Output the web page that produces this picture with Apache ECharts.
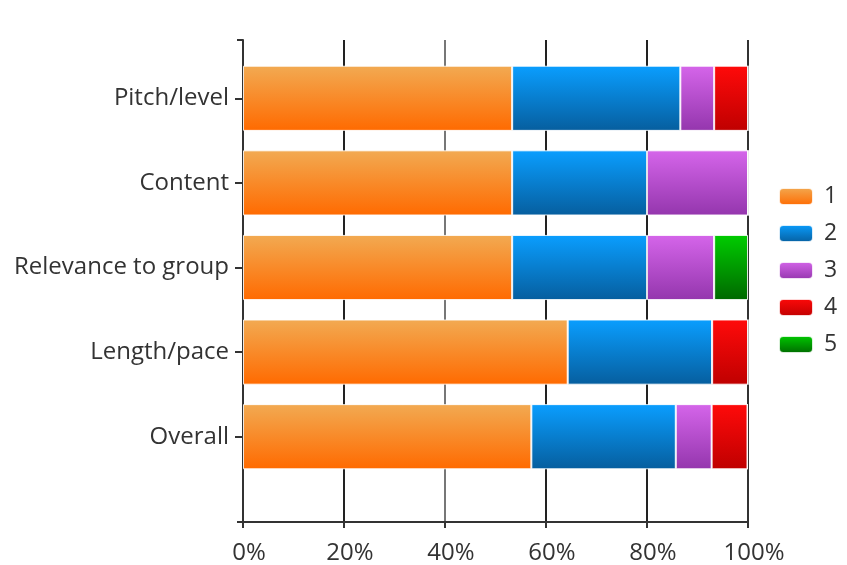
<!DOCTYPE html>
<html><head><meta charset="utf-8">
<script src="https://cdn.jsdelivr.net/npm/echarts@6/dist/echarts.min.js"></script>
<style>html,body{margin:0;padding:0;background:#fff}#c{width:847px;height:565px}</style>
</head><body><div id="c"></div>
<script>
const categories = ['Pitch/level', 'Content', 'Relevance to group', 'Length/pace', 'Overall'];
const seriesNames = ['1', '2', '3', '4', '5'];
const s1 = [53.3, 53.3, 53.3, 64.3, 57.1];
const s2 = [33.3, 26.7, 26.7, 28.6, 28.6];
const s3 = [6.7, 20.0, 13.3, 0, 7.1];
const s4 = [6.7, 0, 0, 7.1, 7.1];
const s5 = [0, 0, 6.7, 0, 0];
const xTicks = [0, 20, 40, 60, 80, 100];

const values = [s1, s2, s3, s4, s5];
const grads = [
  ['#f2aa52', '#ff6a00'],
  ['#0a9eff', '#065e9e'],
  ['#d565ea', '#9436ad'],
  ['#ff0a0a', '#bf0000'],
  ['#00cc00', '#006800']
];
function grad(c) {
  return new echarts.graphic.LinearGradient(0, 0, 0, 1, [{offset: 0, color: c[0]}, {offset: 1, color: c[1]}]);
}
const font = '"Open Sans", "Noto Sans", sans-serif';
const chart = echarts.init(document.getElementById('c'), null, {renderer: 'canvas'});
chart.setOption({
  animation: false,
  backgroundColor: '#fff',
  legend: {
    orient: 'vertical', left: 773, top: 180,
    itemWidth: 34, itemHeight: 17, itemGap: 14,
    textStyle: {fontSize: 23, color: '#333', fontFamily: font, padding: [0, 0, 0, 6]},
    data: seriesNames
  },
  grid: [
    {left: 243, right: 99, top: 56, height: 423},
    {left: 243, right: 99, top: 40, height: 482}
  ],
  xAxis: [
    {gridIndex: 0, type: 'value', min: 0, max: 100, show: false},
    {gridIndex: 1, type: 'value', min: xTicks[0], max: xTicks[xTicks.length - 1], interval: 20,
     axisLine: {show: true, onZero: false, lineStyle: {color: '#333', width: 2}},
     axisTick: {show: true, length: 6, lineStyle: {color: '#333', width: 2}},
     axisLabel: {fontSize: 24, color: '#333', fontFamily: font, margin: 19, padding: [0, 0, 0, 12], formatter: v => v + '%'},
     splitLine: {show: true, lineStyle: {color: ['#333', '#222', '#777', '#222', '#222', '#333'], width: 2}}
    }
  ],
  yAxis: [
    {gridIndex: 0, type: 'category', data: categories, inverse: true,
     axisLine: {show: false},
     axisTick: {show: true, length: 8, alignWithLabel: true, interval: 0, lineStyle: {color: '#333', width: 2}},
     axisLabel: {fontSize: 24, color: '#333', fontFamily: font, margin: 14}
    },
    {gridIndex: 1, type: 'value', min: 0, max: 1, interval: 1,
     axisLine: {show: true, lineStyle: {color: '#333', width: 2}},
     axisTick: {show: true, length: 6, lineStyle: {color: '#333', width: 2}},
     axisLabel: {show: false}, splitLine: {show: false}
    }
  ],
  series: values.map((vals, i) => ({
    name: seriesNames[i], type: 'bar', stack: 'total',
    xAxisIndex: 0, yAxisIndex: 0,
    barCategoryGap: '23%',
    data: vals,
    itemStyle: {color: grad(grads[i]), borderColor: 'rgba(255,255,255,0.85)', borderWidth: 1}
  })).concat([{type: 'bar', xAxisIndex: 1, yAxisIndex: 1, data: [], silent: true}])
});
</script></body></html>
